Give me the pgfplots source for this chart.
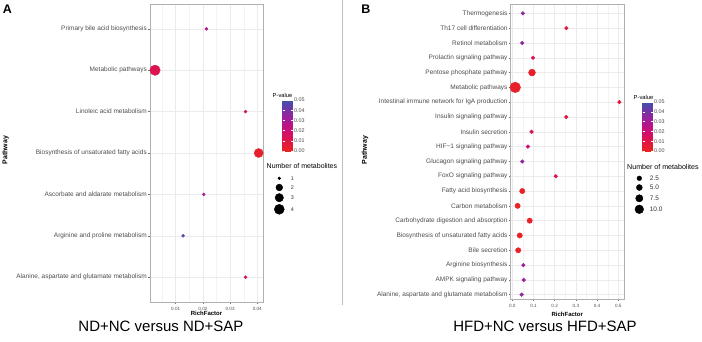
\documentclass[border=0pt]{standalone}
\usepackage{pgfplots}
\pgfplotsset{compat=1.18}
\usepackage{pgfplotstable}
\usepackage{fontspec}
\setmainfont{Liberation Sans}
\setsansfont{Liberation Sans}

\definecolor{labgray}{HTML}{4D4D4D}
\definecolor{bordergray}{HTML}{B0B0B0}
\definecolor{gridmaj}{HTML}{EBEBEB}
\definecolor{gridmin}{HTML}{F3F3F3}

\pgfplotstableread{
y x p n
0 0.0213 0.028 1
1 0.0024 0.012 4
2 0.0357 0.013 1
3 0.0405 0.003 3
4 0.0203 0.030 1
5 0.0127 0.045 1
6 0.0357 0.013 1
}\dataA

\pgfplotstableread{
y x p n
0 0.050 0.035 1
1 0.255 0.006 1
2 0.047 0.035 1
3 0.098 0.012 1
4 0.093 0.003 7
5 0.014 0.002 14
6 0.505 0.006 1
7 0.255 0.008 1
8 0.091 0.014 1
9 0.074 0.020 1
10 0.047 0.035 1
11 0.205 0.011 1
12 0.047 0.002 4
13 0.025 0.001 4
14 0.082 0.002 4
15 0.035 0.002 4
16 0.028 0.001 4
17 0.052 0.033 1
18 0.054 0.033 1
19 0.044 0.035 1
}\dataB

\pgfplotsset{
  colormap={pv}{rgb255=(234,36,34) rgb255=(224,20,70) rgb255=(205,14,115) rgb255=(170,25,150) rgb255=(120,50,165) rgb255=(62,82,172)},
  dotplot/.style={
    scale only axis,
    y dir=reverse,
    axis line style={bordergray, line width=0.9pt},
    grid=both,
    major grid style={gridmaj, line width=0.45pt},
    minor grid style={gridmin, line width=0.3pt},
    minor x tick num=1,
    tick align=outside,
    major tick length=2pt,
    minor tick length=0pt,
    tick style={black!55, line width=0.45pt},
    xtick pos=bottom, ytick pos=left,
    scaled x ticks=false,
    xticklabel style={font=\fontsize{4.6}{5}\selectfont, text=labgray},
    yticklabel style={font=\fontsize{6.5}{7}\selectfont, text=labgray, inner xsep=1pt},
    point meta min=0, point meta max=0.05,
    colormap name=pv,
    colorbar,
    clip=false,
  },
  cbstyle/.style={
    colorbar style={
      scale only axis,
      width=10pt,
      axis line style={draw=none},
      scaled y ticks=false,
      ytick={0,0.01,0.02,0.03,0.04,0.05},
      yticklabels={0.00,0.01,0.02,0.03,0.04,0.05},
      ytick pos=both, yticklabel pos=right,
      tick align=inside,
      major tick length=2pt,
      tick style={white, line width=0.4pt},
      yticklabel style={font=\fontsize{5.4}{6}\selectfont, text=labgray, inner xsep=1.5pt},
      #1
    }
  },
  sizeleg/.style={
    scale only axis, hide axis, clip=false,
    width=100pt, height=100pt,
    xmin=0, xmax=100, ymin=0, ymax=100, y dir=reverse,
    anchor=north west,
  },
}

\begin{document}
\begin{tikzpicture}[x=1pt,y=1pt]
\useasboundingbox (0,-342) rectangle (702,0);

% ---------------- Panel A ----------------
\begin{axis}[dotplot,
  at={(150pt,-302pt)}, anchor=south west,
  width=113pt, height=298pt,
  xmin=0.00055, xmax=0.0421,
  ymin=-0.6, ymax=6.6,
  xtick={0.01,0.02,0.03,0.04},
  xticklabels={0.01,0.02,0.03,0.04},
  minor xtick={0.005,0.015,0.025,0.035},
  ytick={0,...,6},
  yticklabels={Primary bile acid biosynthesis, Metabolic pathways, Linoleic acid metabolism, Biosynthesis of unsaturated fatty acids, Ascorbate and aldarate metabolism, Arginine and proline metabolism, {Alanine, aspartate and glutamate metabolism}},
  cbstyle={at={(parent axis.north east)}, anchor=north west, xshift=11pt, yshift=-96pt, height=51pt},
]
\addplot[scatter, only marks, mark=*, point meta=explicit,
  scatter/use mapped color={draw=mapped color, fill=mapped color},
  visualization depends on={(3+7.4*sqrt((\thisrow{n}-1)/3))/2 \as \rad},
  scatter/@pre marker code/.append style={/tikz/mark size=\rad}]
  table[x=x, y=y, meta=p] {\dataA};
\end{axis}

% size legend A
\begin{axis}[sizeleg, at={(260pt,-120pt)}, xmin=260, xmax=360, ymin=120, ymax=220]
\addplot[only marks, mark=*, black, mark size=1.4pt,
  nodes near coords={1}, nodes near coords style={anchor=west, xshift=8pt, font=\fontsize{5.4}{6}\selectfont, text=black!80}]
  coordinates {(279.3,178.3)};
\addplot[only marks, mark=*, black, mark size=3.4pt,
  nodes near coords={2}, nodes near coords style={anchor=west, xshift=8pt, font=\fontsize{5.4}{6}\selectfont, text=black!80}]
  coordinates {(279.3,187.5)};
\addplot[only marks, mark=*, black, mark size=4.2pt,
  nodes near coords={3}, nodes near coords style={anchor=west, xshift=8pt, font=\fontsize{5.4}{6}\selectfont, text=black!80}]
  coordinates {(279.3,197.7)};
\addplot[only marks, mark=*, black, mark size=5pt,
  nodes near coords={4}, nodes near coords style={anchor=west, xshift=8pt, font=\fontsize{5.4}{6}\selectfont, text=black!80}]
  coordinates {(279.3,209.3)};
\end{axis}

% ---------------- Panel B ----------------
\begin{axis}[dotplot,
  at={(510.7pt,-299pt)}, anchor=south west,
  width=113.3pt, height=295pt,
  xmin=-0.0075, xmax=0.527,
  ymin=-0.63, ymax=19.29,
  xtick={0,0.1,0.2,0.3,0.4,0.5},
  xticklabels={0.0,0.1,0.2,0.3,0.4,0.5},
  minor xtick={0.05,0.15,0.25,0.35,0.45},
  ytick={0,...,19},
  yticklabels={Thermogenesis, Th17 cell differentiation, Retinol metabolism, Prolactin signaling pathway, Pentose phosphate pathway, Metabolic pathways, Intestinal immune network for IgA production, Insulin signaling pathway, Insulin secretion, HIF−1 signaling pathway, Glucagon signaling pathway, FoxO signaling pathway, Fatty acid biosynthesis, Carbon metabolism, Carbohydrate digestion and absorption, Biosynthesis of unsaturated fatty acids, Bile secretion, Arginine biosynthesis, AMPK signaling pathway, {Alanine, aspartate and glutamate metabolism}},
  cbstyle={at={(parent axis.north east)}, anchor=north west, xshift=10pt, yshift=-98pt, height=49pt},
]
\addplot[scatter, only marks, mark=*, point meta=explicit,
  scatter/use mapped color={draw=mapped color, fill=mapped color},
  visualization depends on={(3.2+0.53*\thisrow{n})/2 \as \rad},
  scatter/@pre marker code/.append style={/tikz/mark size=\rad}]
  table[x=x, y=y, meta=p] {\dataB};
\end{axis}

% size legend B
\begin{axis}[sizeleg, at={(620pt,-120pt)}, xmin=620, xmax=720, ymin=120, ymax=220]
\addplot[only marks, mark=*, black, mark size=2.35pt,
  nodes near coords={2.5}, nodes near coords style={anchor=west, xshift=7pt, font=\fontsize{6.5}{7}\selectfont, text=black!80}]
  coordinates {(639.3,178.3)};
\addplot[only marks, mark=*, black, mark size=3pt,
  nodes near coords={5.0}, nodes near coords style={anchor=west, xshift=7pt, font=\fontsize{6.5}{7}\selectfont, text=black!80}]
  coordinates {(639.3,187.5)};
\addplot[only marks, mark=*, black, mark size=3.65pt,
  nodes near coords={7.5}, nodes near coords style={anchor=west, xshift=7pt, font=\fontsize{6.5}{7}\selectfont, text=black!80}]
  coordinates {(639.3,198.3)};
\addplot[only marks, mark=*, black, mark size=4.35pt,
  nodes near coords={10.0}, nodes near coords style={anchor=west, xshift=7pt, font=\fontsize{6.5}{7}\selectfont, text=black!80}]
  coordinates {(639.3,209.3)};
\end{axis}

% ---------------- texts ----------------
\node[font=\bfseries\fontsize{12.5}{14}\selectfont, inner sep=0] at (7.5,-9) {A};
\node[font=\bfseries\fontsize{12.5}{14}\selectfont, inner sep=0] at (366,-9) {B};

\node[rotate=90, font=\bfseries\fontsize{7}{8}\selectfont, inner sep=0] at (5.5,-150) {Pathway};
\node[rotate=90, font=\bfseries\fontsize{7}{8}\selectfont, inner sep=0] at (365,-150) {Pathway};

\node[font=\bfseries\fontsize{6}{7}\selectfont, inner sep=0] at (206.5,-313.3) {RichFactor};
\node[font=\bfseries\fontsize{6}{7}\selectfont, inner sep=0] at (567.3,-314.3) {RichFactor};

\node[font=\fontsize{5.8}{7}\selectfont, anchor=west, inner sep=0] at (272.5,-95) {P-value};
\node[font=\fontsize{5.8}{7}\selectfont, anchor=west, inner sep=0] at (633.5,-97) {P-value};
\node[font=\fontsize{7}{8}\selectfont, anchor=west, inner sep=0] at (266.5,-166) {Number of metabolites};
\node[font=\fontsize{7.1}{8}\selectfont, anchor=west, inner sep=0] at (627,-166.7) {Number of metabolites};

\node[font=\fontsize{15}{18}\selectfont, inner sep=0] at (161,-326) {ND+NC versus ND+SAP};
\node[font=\fontsize{15}{18}\selectfont, inner sep=0] at (545,-326) {HFD+NC versus HFD+SAP};

\draw[black!25, line width=0.6pt] (342.5,0) -- (342.5,-305);
\end{tikzpicture}
\end{document}
